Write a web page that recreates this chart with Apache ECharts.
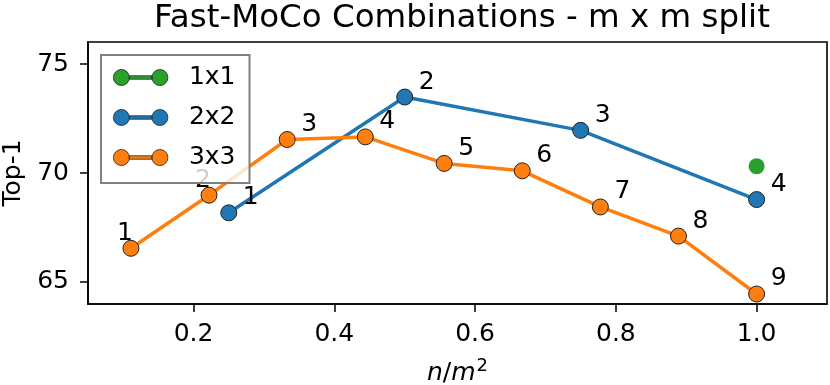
<!DOCTYPE html>
<html>
<head>
<meta charset="utf-8">
<script src="https://cdn.jsdelivr.net/npm/echarts@6/dist/echarts.min.js"></script>
<style>
  html, body { margin: 0; padding: 0; background: #fff; }
  #chart { width: 830px; height: 385px; }
</style>
</head>
<body>
<div id="chart"></div>
<script>
// values
const x1 = [1.0];
const y1 = [70.31];
const x2 = [0.25, 0.5, 0.75, 1.0];
const y2 = [68.17, 73.49, 71.96, 68.78];
const lab2 = ['1', '2', '3', '4'];
const x3 = [0.111, 0.222, 0.333, 0.444, 0.556, 0.667, 0.778, 0.889, 1.0];
const y3 = [66.54, 68.98, 71.54, 71.66, 70.44, 70.10, 68.44, 67.10, 64.44];
const lab3 = ['1', '2', '3', '4', '5', '6', '7', '8', '9'];
const xTicks = [0.2, 0.4, 0.6, 0.8, 1.0];
const yTicks = [65, 70, 75];

const FONT = 'DejaVu Sans';
const colors = { '1x1': '#2ca02c', '2x2': '#1f77b4', '3x3': '#ff7f0e' };
// legend glyph: marker - line - marker
const legendIcon = 'path://M0,8 A8,8 0 1,1 16,8 A8,8 0 1,1 0,8 Z ' +
  'M38.5,8 A8,8 0 1,1 54.5,8 A8,8 0 1,1 38.5,8 Z ' +
  'M16,6.3 L38.5,6.3 L38.5,9.7 L16,9.7 Z';

const pts = (xs, ys, labels, leftLabels) => xs.map((x, i) => {
  const d = { value: [x, ys[i]] };
  if (labels) {
    d.label = {
      show: true,
      formatter: labels[i],
      offset: leftLabels && i < 2 ? [-6, -15] : [22, -15]
    };
  }
  return d;
});

const chart = echarts.init(document.getElementById('chart'));
const labelBase = {
  position: 'inside',
  color: '#000',
  fontSize: 25,
  fontFamily: FONT
};

chart.setOption({
  animation: false,
  textStyle: { fontFamily: FONT },
  title: {
    text: 'Fast-MoCo Combinations - m x m split',
    left: 457,
    top: -3,
    textAlign: 'center',
    textStyle: { fontSize: 32.5, fontWeight: 'normal', color: '#000', fontFamily: FONT }
  },
  legend: {
    orient: 'vertical',
    left: 101,
    top: 55,
    padding: [10, 14, 13, 12],
    itemGap: 15,
    itemWidth: 54.5,
    itemHeight: 16,
    icon: legendIcon,
    backgroundColor: 'rgba(255,255,255,0.8)',
    borderColor: '#808080',
    borderWidth: 2,
    textStyle: { fontSize: 25, color: '#000', fontFamily: FONT, padding: [0, 0, 0, 16] },
    itemStyle: { borderColor: '#222', borderWidth: 0.8 },
    data: ['1x1', '2x2', '3x3']
  },
  grid: {
    left: 88,
    right: 3,
    top: 42,
    bottom: 81,
    outerBoundsMode: 'none',
    containLabel: false,
    show: true,
    borderColor: '#000',
    borderWidth: 1.6,
    backgroundColor: 'transparent'
  },
  xAxis: {
    type: 'value',
    min: 0.05,
    max: 1.1,
    name: '{i|n}/{i|m}{s|2}',
    nameLocation: 'middle',
    nameGap: 53,
    nameTextStyle: {
      fontSize: 25,
      color: '#000',
      fontFamily: FONT,
      rich: {
        i: { fontSize: 25, fontStyle: 'italic', color: '#000', fontFamily: FONT },
        s: { fontSize: 18, color: '#000', fontFamily: FONT, verticalAlign: 'bottom', padding: [0, 0, 14, 1] }
      }
    },
    splitLine: { show: false },
    axisLine: { show: true, lineStyle: { color: '#000', width: 1.6 } },
    axisTick: { show: true, inside: false, length: 8, customValues: xTicks, lineStyle: { color: '#000', width: 1.5 } },
    axisLabel: {
      customValues: xTicks,
      margin: 18,
      fontSize: 25,
      color: '#000',
      fontFamily: FONT,
      formatter: v => v.toFixed(1)
    }
  },
  yAxis: {
    type: 'value',
    min: 63.98,
    max: 76.02,
    name: 'Top-1',
    nameLocation: 'middle',
    nameGap: 62,
    nameTextStyle: { fontSize: 25, color: '#000', fontFamily: FONT },
    splitLine: { show: false },
    axisLine: { show: true, lineStyle: { color: '#000', width: 1.6 } },
    axisTick: { show: true, inside: false, length: 8, customValues: yTicks, lineStyle: { color: '#000', width: 1.5 } },
    axisLabel: {
      customValues: yTicks,
      margin: 19,
      fontSize: 25,
      color: '#000',
      fontFamily: FONT
    }
  },
  series: [
    {
      name: '1x1',
      type: 'line',
      symbol: 'circle',
      symbolSize: 16,
      color: colors['1x1'],
      lineStyle: { width: 3.5, color: colors['1x1'] },
      itemStyle: { color: colors['1x1'], borderWidth: 0 },
      data: pts(x1, y1)
    },
    {
      name: '2x2',
      type: 'line',
      symbol: 'circle',
      symbolSize: 16,
      color: colors['2x2'],
      lineStyle: { width: 3.5, color: colors['2x2'] },
      itemStyle: { color: colors['2x2'], borderColor: '#222', borderWidth: 1 },
      label: labelBase,
      data: pts(x2, y2, lab2, false)
    },
    {
      name: '3x3',
      type: 'line',
      symbol: 'circle',
      symbolSize: 16,
      color: colors['3x3'],
      lineStyle: { width: 3.5, color: colors['3x3'] },
      itemStyle: { color: colors['3x3'], borderColor: '#222', borderWidth: 1 },
      label: labelBase,
      data: pts(x3, y3, lab3, true)
    }
  ]
});
</script>
</body>
</html>
